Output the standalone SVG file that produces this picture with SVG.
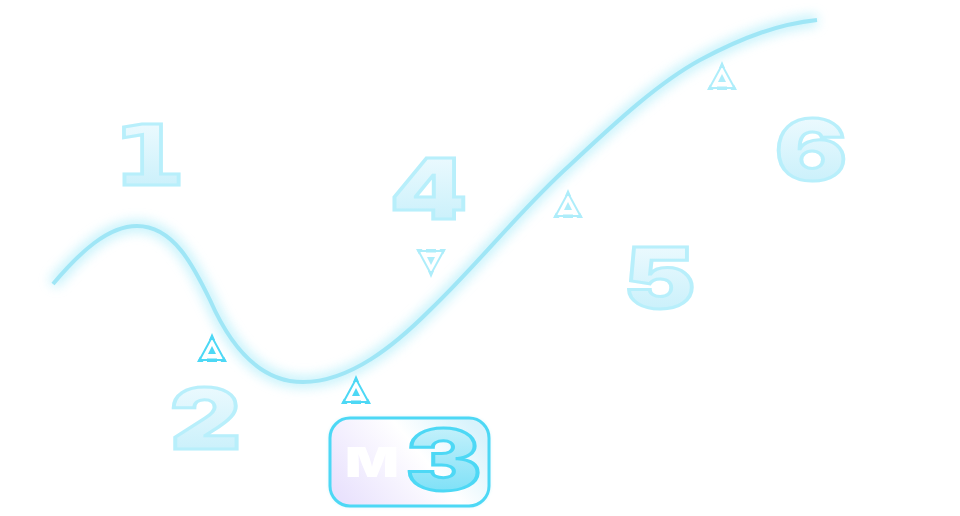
<svg xmlns="http://www.w3.org/2000/svg" width="960" height="516" viewBox="0 0 960 516">
<style>
.n{font-family:"Inter","Liberation Sans",sans-serif;font-weight:900;font-size:84px;text-anchor:middle;fill:url(#numFill);stroke:#b8effb;stroke-width:3;stroke-linejoin:miter}
.curve{fill:none;stroke-linecap:butt}
.ic{fill:none;stroke:#4dd8f5;stroke-width:2}
.icf{fill:#4dd8f5}
.pale{opacity:.45}
</style>
<defs>
<linearGradient id="numFill" x1="0" y1="0" x2="0" y2="1"><stop offset="0" stop-color="#f4fcff"/><stop offset="1" stop-color="#c2eefa"/></linearGradient>
<linearGradient id="threeFill" x1="0" y1="0" x2="0" y2="1"><stop offset="0" stop-color="#d6f5fc"/><stop offset="1" stop-color="#6cdcf6"/></linearGradient>
<linearGradient id="box" x1="0" y1=".75" x2="1" y2=".3"><stop offset="0" stop-color="#e9e2fd"/><stop offset=".6" stop-color="#ffffff"/><stop offset="1" stop-color="#d8f3fc"/></linearGradient>
<filter id="glow" x="-10%" y="-20%" width="120%" height="140%"><feGaussianBlur stdDeviation="6"/></filter>
<filter id="soft" x="-10%" y="-10%" width="120%" height="120%"><feGaussianBlur stdDeviation="2"/></filter>
<g id="tri">
<path class="ic" d="M0 -12 L-12.500 11 H12.500 Z"/>
<path class="icf" d="M0 -16 L-3 -9 H3 Z M-15 13 L-12 7.500 L-8.500 13 Z M15 13 L12 7.500 L8.500 13 Z M-5 9.500 H5 V13 H-5 Z M0 -3 L4 5 H-4 Z"/>
</g>
<path id="c" d="M53 284 C80 252 108 226 137 226 C173 226 193 265 210 300 C232 350 262 382 303 382 C350 382 395 345 430 310 C480 262 520 210 570 165 C620 118 660 82 700 60 C745 36 780 24 817 20"/>
</defs>
<g id="connectors">
<use href="#c" class="curve" stroke="#8fe6f8" stroke-width="11" filter="url(#glow)" opacity=".55"/>
<use href="#c" class="curve" stroke="#9fe6f6" stroke-width="4"/>
</g>
<g id="node-1"><text class="n" x="149" y="184.500" textLength="74" lengthAdjust="spacingAndGlyphs" style="font-family:'DejaVu Sans',sans-serif;font-weight:700">1</text></g>
<g id="marker-2"><use href="#tri" x="212" y="349"/></g>
<g id="node-2"><text class="n" x="205.500" y="448.500" textLength="71" lengthAdjust="spacingAndGlyphs">2</text></g>
<g id="marker-3"><use href="#tri" x="356" y="391"/></g>
<g id="node-3">
<rect x="330" y="418" width="159" height="88" rx="20" fill="#4dd8f5" opacity=".4" filter="url(#soft)"/>
<rect x="330" y="418" width="159" height="88" rx="20" fill="url(#box)" stroke="#4dd8f5" stroke-width="3"/>
<text x="372" y="477" textLength="54" lengthAdjust="spacingAndGlyphs" style="font-family:Inter,'Liberation Sans',sans-serif;font-weight:900;font-size:41px;text-anchor:middle;fill:#fff">M</text>
<text class="n" x="443.500" y="490" textLength="76" lengthAdjust="spacingAndGlyphs" style="fill:url(#threeFill);stroke:#4dd8f5">3</text>
</g>
<g id="marker-4" class="pale"><use href="#tri" transform="translate(431 262) scale(1 -1)"/></g>
<g id="node-4"><text class="n" x="428.500" y="218.500" textLength="77" lengthAdjust="spacingAndGlyphs">4</text></g>
<g id="marker-5" class="pale"><use href="#tri" x="568" y="205"/></g>
<g id="node-5"><text class="n" x="659.500" y="308" textLength="72" lengthAdjust="spacingAndGlyphs">5</text></g>
<g id="marker-6" class="pale"><use href="#tri" x="722" y="77"/></g>
<g id="node-6"><text class="n" x="811" y="180" textLength="72" lengthAdjust="spacingAndGlyphs">6</text></g>
</svg>
